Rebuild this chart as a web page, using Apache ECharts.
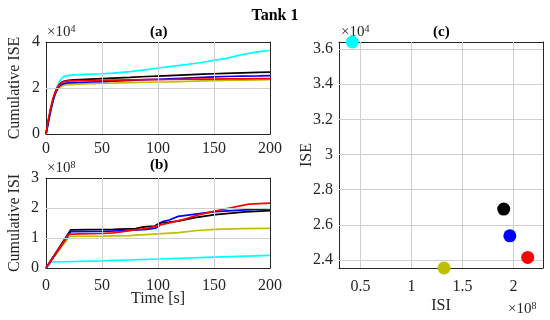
<!DOCTYPE html>
<html>
<head>
<meta charset="utf-8">
<script src="https://cdn.jsdelivr.net/npm/echarts@6/dist/echarts.min.js"></script>
<style>html,body{margin:0;padding:0;background:#fff}#c{width:550px;height:320px}</style>
</head>
<body>
<div id="c"></div>
<script>
// ---- Data ----
// Panel (a): cumulative ISE (x1e4) vs time [s]
const timeISE = [0, 2, 4, 6, 8, 10, 12, 14, 16, 18, 20, 25, 30, 40, 50, 60, 75, 90, 100, 110, 125, 140, 150, 160, 175, 190, 200];
const iseCyan   = [0, 0.45, 0.9, 1.35, 1.75, 2.05, 2.28, 2.42, 2.5, 2.53, 2.55, 2.57, 2.58, 2.6, 2.62, 2.65, 2.71, 2.8, 2.87, 2.93, 3.02, 3.12, 3.2, 3.28, 3.45, 3.58, 3.63];
const iseYellow = [0, 0.5, 1.0, 1.4, 1.7, 1.9, 2.02, 2.08, 2.12, 2.14, 2.15, 2.16, 2.17, 2.19, 2.2, 2.21, 2.23, 2.25, 2.26, 2.27, 2.29, 2.31, 2.32, 2.33, 2.34, 2.35, 2.36];
const iseBlack  = [0, 0.55, 1.05, 1.45, 1.78, 2.0, 2.15, 2.24, 2.29, 2.31, 2.33, 2.35, 2.37, 2.39, 2.41, 2.43, 2.46, 2.5, 2.52, 2.54, 2.57, 2.6, 2.62, 2.64, 2.66, 2.68, 2.69];
const iseBlue   = [0, 0.5, 1.0, 1.4, 1.72, 1.95, 2.08, 2.15, 2.19, 2.21, 2.22, 2.23, 2.24, 2.26, 2.28, 2.3, 2.33, 2.36, 2.38, 2.4, 2.43, 2.46, 2.48, 2.5, 2.52, 2.53, 2.54];
const iseRed    = [0, 0.6, 1.1, 1.5, 1.8, 2.0, 2.15, 2.24, 2.28, 2.3, 2.31, 2.31, 2.32, 2.32, 2.33, 2.34, 2.35, 2.36, 2.36, 2.37, 2.38, 2.39, 2.39, 2.4, 2.4, 2.41, 2.41];

// Panel (b): cumulative ISI (x1e8) vs time [s]
const isiTimeCyan = [0, 5, 50, 100, 150, 200];
const isiCyan     = [0, 0.2, 0.24, 0.3, 0.36, 0.42];
const isiTimeYellow = [0, 21, 50, 74, 100, 118, 135, 151, 175, 200];
const isiYellow     = [0, 1.05, 1.06, 1.08, 1.14, 1.18, 1.25, 1.29, 1.31, 1.32];
const isiTimeBlack = [0, 22, 40, 60, 80, 86, 90, 97, 102, 110, 118, 133, 151, 178, 200];
const isiBlack     = [0, 1.27, 1.28, 1.29, 1.31, 1.36, 1.38, 1.4, 1.51, 1.53, 1.56, 1.68, 1.78, 1.87, 1.91];
const isiTimeBlue = [0, 22, 50, 74, 90, 98, 101, 104, 110, 118, 130, 151, 178, 200];
const isiBlue     = [0, 1.21, 1.22, 1.25, 1.29, 1.33, 1.4, 1.55, 1.6, 1.72, 1.78, 1.88, 1.94, 1.97];
const isiTimeRed = [0, 20, 30, 50, 60, 70, 77, 86, 95, 100, 105, 113, 124, 136, 151, 169, 181, 200];
const isiRed     = [0, 1.12, 1.14, 1.15, 1.17, 1.22, 1.26, 1.3, 1.36, 1.42, 1.46, 1.53, 1.63, 1.77, 1.9, 2.04, 2.13, 2.16];

// Panel (c): final ISI (x1e8) vs final ISE (x1e4)
const finalNames = ['cyan', 'black', 'blue', 'red', 'yellow'];
const finalISI = [0.42, 1.905, 1.965, 2.14, 1.32];
const finalISE = [3.64, 2.69, 2.538, 2.415, 2.355];

// Tick values (interior grid lines)
const timeTicks = [50, 100, 150];
const iseTicksA = [2];
const isiTicksB = [1, 2];
const iseTicksC = [2.4, 2.6, 2.8, 3.0, 3.2, 3.4, 3.6];
const isiTicksC = [0.5, 1, 1.5, 2];

// Axis ranges
const timeRange = [0, 200];
const iseRangeA = [0, 4];
const isiRangeB = [0, 3];
const isiRangeC = [0.29, 2.29];
const iseRangeC = [2.355, 3.64];

// ---- Styles ----
const colors = { cyan: '#00ffff', black: '#000000', blue: '#0000ff', red: '#ff0000', yellow: '#bfbf00' };
const FONT = 'Liberation Serif';
const AX = '#262626';
const GRIDC = '#cfcfcf';

function zip(xs, ys) { return xs.map((x, i) => [x, ys[i]]); }

function valAxis(o, margin) {
  return Object.assign({
    type: 'value',
    axisLine: { show: true, onZero: false, lineStyle: { color: AX, width: 1 } },
    axisTick: { show: true, inside: true, length: 3, lineStyle: { color: AX } },
    axisLabel: { color: AX, fontFamily: FONT, fontSize: 16, margin: margin },
    splitLine: { show: false },
    nameTextStyle: { color: AX, fontFamily: FONT, fontSize: 16 },
    nameLocation: 'middle',
    nameMoveOverlap: false
  }, o);
}
function mirrorAxis(o) {
  return Object.assign({
    type: 'value', axisLine: { show: true, onZero: false, lineStyle: { color: AX, width: 1 } },
    axisLabel: { show: false }, splitLine: { show: false },
    axisTick: { show: true, inside: true, length: 3, lineStyle: { color: AX } }
  }, o);
}
// Grid lines drawn as markLines at the tick values, through the axes' scales
function gridLineSeries(grid, xs, ys) {
  return {
    type: 'scatter', xAxisIndex: grid, yAxisIndex: grid, data: [], silent: true, z: 1,
    symbolSize: 0,
    markLine: {
      silent: true, symbol: 'none', label: { show: false }, animation: false, precision: 4,
      lineStyle: { color: GRIDC, width: 1, type: 'solid' },
      data: ys.map(v => ({ yAxis: v })).concat(xs.map(v => ({ xAxis: v })))
    }
  };
}

function lineSeries(grid, data, color) {
  return {
    type: 'line', xAxisIndex: grid, yAxisIndex: grid, data: data,
    showSymbol: false, symbol: 'none', lineStyle: { color: color, width: 1.7 },
    itemStyle: { color: color }, animation: false, clip: true, z: 3
  };
}

const option = {
  animation: false,
  backgroundColor: '#fff',
  title: {
    text: 'Tank 1', left: 'center', top: 3,
    textStyle: { fontFamily: FONT, fontWeight: 'bold', fontSize: 16, color: '#000' }
  },
  grid: [
    { left: 46, top: 42, width: 224, height: 92 },
    { left: 46, top: 178, width: 224, height: 90 },
    { left: 339, top: 42, width: 204, height: 226 }
  ],
  xAxis: [
    valAxis({ gridIndex: 0, min: timeRange[0], max: timeRange[1], interval: 50 }, 7),
    valAxis({ gridIndex: 1, min: timeRange[0], max: timeRange[1], interval: 50, name: 'Time [s]', nameGap: 23 }, 10),
    valAxis({ gridIndex: 2, min: isiRangeC[0], max: isiRangeC[1], name: 'ISI', nameGap: 30,
      axisTick: { show: true, inside: true, length: 3, customValues: isiTicksC, lineStyle: { color: AX } },
      axisLabel: { color: AX, fontFamily: FONT, fontSize: 16, margin: 11, customValues: isiTicksC } }, 11),
    mirrorAxis({ gridIndex: 0, position: 'top', min: timeRange[0], max: timeRange[1], interval: 50 }),
    mirrorAxis({ gridIndex: 1, position: 'top', min: timeRange[0], max: timeRange[1], interval: 50 }),
    mirrorAxis({ gridIndex: 2, position: 'top', min: isiRangeC[0], max: isiRangeC[1],
      axisTick: { show: true, inside: true, length: 3, customValues: isiTicksC, lineStyle: { color: AX } } })
  ],
  yAxis: [
    valAxis({ gridIndex: 0, min: iseRangeA[0], max: iseRangeA[1], interval: 2, name: 'Cumulative ISE', nameGap: 23 }, 6),
    valAxis({ gridIndex: 1, min: isiRangeB[0], max: isiRangeB[1], interval: 1, name: 'Cumulative ISI', nameGap: 23 }, 7),
    valAxis({ gridIndex: 2, min: iseRangeC[0], max: iseRangeC[1], name: 'ISE', nameGap: 24,
      axisTick: { show: true, inside: true, length: 3, customValues: iseTicksC, lineStyle: { color: AX } },
      axisLabel: { color: AX, fontFamily: FONT, fontSize: 16, margin: 6, customValues: iseTicksC, formatter: v => (Math.round(v * 10) / 10).toString() } }, 6),
    mirrorAxis({ gridIndex: 0, position: 'right', min: iseRangeA[0], max: iseRangeA[1], interval: 2 }),
    mirrorAxis({ gridIndex: 1, position: 'right', min: isiRangeB[0], max: isiRangeB[1], interval: 1 }),
    mirrorAxis({ gridIndex: 2, position: 'right', min: iseRangeC[0], max: iseRangeC[1],
      axisTick: { show: true, inside: true, length: 3, customValues: iseTicksC, lineStyle: { color: AX } } })
  ],
  series: [
    gridLineSeries(0, timeTicks, iseTicksA),
    gridLineSeries(1, timeTicks, isiTicksB),
    gridLineSeries(2, isiTicksC, iseTicksC),
    lineSeries(0, zip(timeISE, iseCyan), colors.cyan),
    lineSeries(0, zip(timeISE, iseYellow), colors.yellow),
    lineSeries(0, zip(timeISE, iseBlack), colors.black),
    lineSeries(0, zip(timeISE, iseBlue), colors.blue),
    lineSeries(0, zip(timeISE, iseRed), colors.red),
    lineSeries(1, zip(isiTimeCyan, isiCyan), colors.cyan),
    lineSeries(1, zip(isiTimeYellow, isiYellow), colors.yellow),
    lineSeries(1, zip(isiTimeBlack, isiBlack), colors.black),
    lineSeries(1, zip(isiTimeBlue, isiBlue), colors.blue),
    lineSeries(1, zip(isiTimeRed, isiRed), colors.red),
    {
      type: 'scatter', xAxisIndex: 2, yAxisIndex: 2, symbolSize: 13, clip: false, z: 5,
      data: finalNames.map((n, i) => ({ value: [finalISI[i], finalISE[i]], itemStyle: { color: colors[n], opacity: 1 } }))
    }
  ],
  graphic: [
    { type: 'text', left: 150, top: 25, style: { text: '(a)', font: 'bold 15px "Liberation Serif"', fill: '#000' } },
    { type: 'text', left: 150, top: 158, style: { text: '(b)', font: 'bold 15px "Liberation Serif"', fill: '#000' } },
    { type: 'text', left: 433, top: 25, style: { text: '(c)', font: 'bold 15px "Liberation Serif"', fill: '#000' } },
    { type: 'text', x: 47, y: 41, style: { text: '×10{s|4}', verticalAlign: 'bottom', font: '15px "Liberation Serif"', fill: AX, rich: { s: { fontSize: 10, fontFamily: FONT, fill: AX, padding: [0, 0, 7, 0] } } } },
    { type: 'text', x: 47, y: 177, style: { text: '×10{s|8}', verticalAlign: 'bottom', font: '15px "Liberation Serif"', fill: AX, rich: { s: { fontSize: 10, fontFamily: FONT, fill: AX, padding: [0, 0, 7, 0] } } } },
    { type: 'text', x: 341, y: 41, style: { text: '×10{s|4}', verticalAlign: 'bottom', font: '15px "Liberation Serif"', fill: AX, rich: { s: { fontSize: 10, fontFamily: FONT, fill: AX, padding: [0, 0, 7, 0] } } } },
    { type: 'text', x: 508, y: 318, style: { text: '×10{s|8}', verticalAlign: 'bottom', font: '15px "Liberation Serif"', fill: AX, rich: { s: { fontSize: 10, fontFamily: FONT, fill: AX, padding: [0, 0, 7, 0] } } } }
  ]
};

const chart = echarts.init(document.getElementById('c'), null, { renderer: 'canvas' });
chart.setOption(option);
</script>
</body>
</html>
